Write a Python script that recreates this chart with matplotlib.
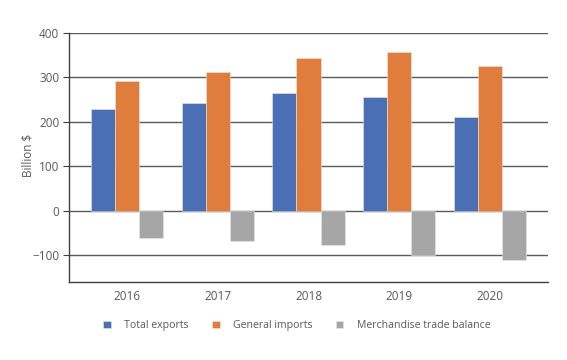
import matplotlib.pyplot as plt
import numpy as np

plt.rcParams['font.family'] = ['Open Sans', 'DejaVu Sans']

# --- datos ---
years = ['2016', '2017', '2018', '2019', '2020']
total_exports = [229, 242, 264, 256, 212]
general_imports = [293, 312, 344, 357, 325]
trade_balance = [-62, -68, -77, -99, -111]

series = [
    ('Total exports', total_exports, '#4a6fb5'),
    ('General imports', general_imports, '#e07c3c'),
    ('Merchandise trade balance', trade_balance, '#a6a6a6'),
]

fig = plt.figure(figsize=(5.67, 3.6), dpi=100)
ax = fig.add_axes([0.1217, 0.2167, 0.8448, 0.6916])

x = np.arange(len(years))
w = 0.265
for i, (nombre, vals, color) in enumerate(series):
    ax.bar(x + (i - 1) * w, vals, w, color=color, edgecolor='#e8e8e8',
           linewidth=0.4, label=nombre, zorder=3)

ax.set_xlim(-0.64, 4.64)
ax.set_ylim(-160, 400)
ax.set_yticks([-100, 0, 100, 200, 300, 400])
ax.set_yticklabels(['\u2212100', '0', '100', '200', '300', '400'])
ax.set_xticks(x)
ax.set_xticklabels(years)

ax.grid(axis='y', color='#5a5a5a', linewidth=1.0, zorder=1)
for s in ['top', 'right']:
    ax.spines[s].set_visible(False)
for s in ['left', 'bottom']:
    ax.spines[s].set_color('#404040')
    ax.spines[s].set_linewidth(1.0)

ax.tick_params(axis='y', length=4, color='#404040', labelcolor='#595959',
               labelsize=8.5, pad=3)
ax.tick_params(axis='x', length=0, labelcolor='#595959', labelsize=8.5, pad=6)
ax.set_ylabel('Billion $', color='#595959', fontsize=8.5, va='center')
ax.yaxis.set_label_coords(-0.086, 0.51)

ax.legend(loc='upper center', bbox_to_anchor=(0.476, -0.115), ncol=3,
          frameon=False, fontsize=7.6, handlelength=0.7, handleheight=0.7,
          columnspacing=2.2, handletextpad=1.3, labelcolor='#595959')

fig.savefig('out.png', dpi=100)
